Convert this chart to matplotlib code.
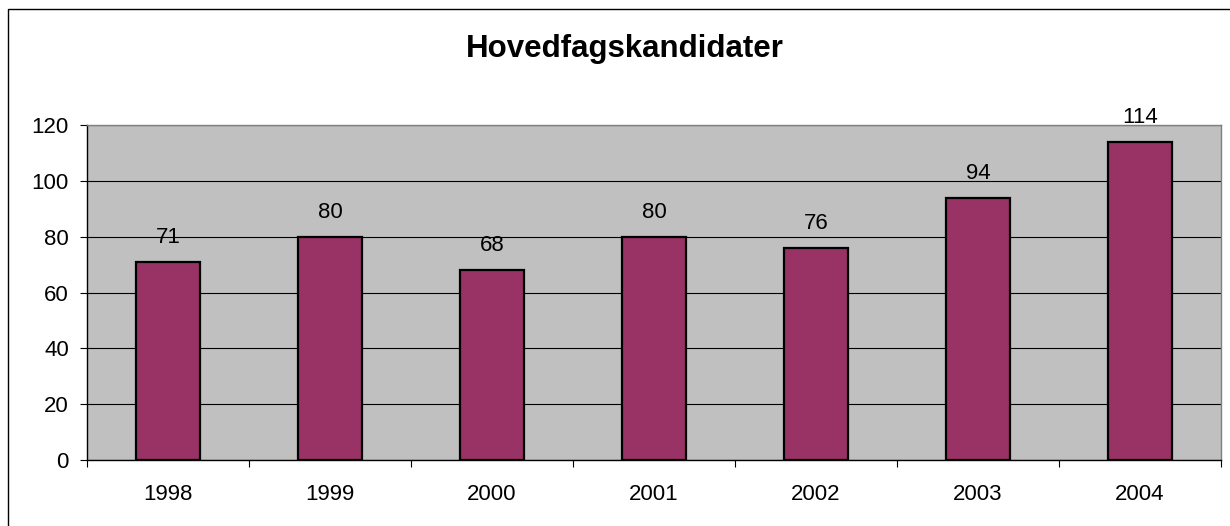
import matplotlib
matplotlib.use("Agg")
import matplotlib.pyplot as plt
from matplotlib.patches import Rectangle
import numpy as np

plt.rcParams["font.family"] = ["Liberation Sans", "DejaVu Sans"]

years = ["1998", "1999", "2000", "2001", "2002", "2003", "2004"]
kandidater = [71, 80, 68, 80, 76, 94, 114]

fig = plt.figure(figsize=(12.3, 5.26), dpi=100)

# ramme rundt hele diagrammet
fig.patches.append(Rectangle((8 / 1230, -0.1), 1.1, 1 - 9 / 526 + 0.1,
                             transform=fig.transFigure, fill=False,
                             edgecolor="black", linewidth=1.0))

ax = fig.add_axes([87 / 1230, 1 - 460 / 526, (1221 - 87) / 1230, (460 - 125) / 526])
ax.set_facecolor("#C0C0C0")

x = np.arange(len(years))
ax.bar(x, kandidater, width=0.4, color="#993366", edgecolor="black",
       linewidth=1.6, zorder=3)

for xi, v in zip(x, kandidater):
    ax.annotate(str(v), (xi, v), xytext=(0, 13.5), textcoords="offset points",
                ha="center", va="baseline", fontsize=16, zorder=4)

ax.set_xlim(-0.5, len(years) - 0.5)
ax.set_ylim(0, 120)
ax.set_yticks(range(0, 121, 20))
ax.yaxis.grid(True, color="black", linewidth=0.8, zorder=1)
ax.set_axisbelow(True)

ax.set_xticks(x)
ax.set_xticklabels(years)
ax.set_xticks(np.arange(-0.5, len(years)), minor=True)
ax.tick_params(axis="x", which="major", length=0, pad=17, labelsize=16)
ax.tick_params(axis="x", which="minor", length=5, direction="out", width=0.8)
ax.tick_params(axis="y", length=5, direction="out", width=0.8, pad=8, labelsize=16)

ax.spines["left"].set_color("black")
ax.spines["bottom"].set_color("black")
ax.spines["top"].set_color("#808080")
ax.spines["right"].set_color("#808080")
for s in ax.spines.values():
    s.set_linewidth(1.0)

fig.text(625 / 1230, 1 - 57 / 526, "Hovedfagskandidater", ha="center",
         va="baseline", fontsize=22.5, fontweight="bold")

fig.savefig("out.png", dpi=100)
